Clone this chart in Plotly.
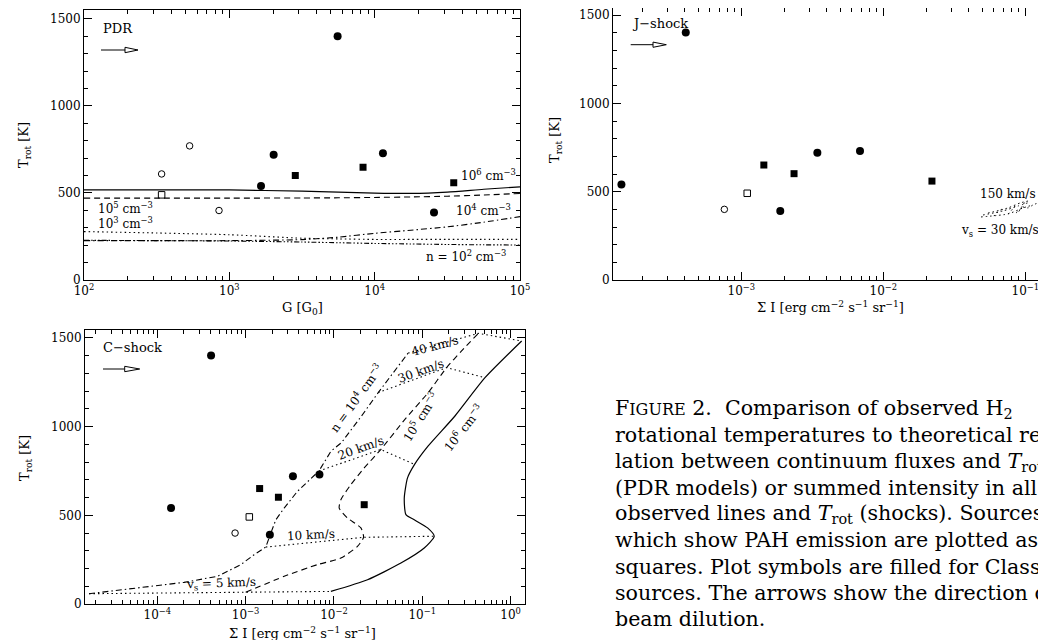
import plotly.graph_objects as go

W, H = 1046, 640
def px(x): return x / W
def py(y): return 1 - y / H

# ---------------- data ----------------
# PDR panel: observed sources (G in G0, Trot in K)
pdr_fc_G = [1652, 2018, 5559, 11400, 25600]
pdr_fc_T = [540, 719, 1399, 728, 387]
pdr_fs_G = [2844, 8318, 35000]
pdr_fs_T = [600, 648, 559]
pdr_oc_G = [342, 533, 849]
pdr_oc_T = [609, 770, 399]
pdr_os_G = [342]
pdr_os_T = [489]

# Shock panels: observed sources (summed intensity, Trot)
shock_fc_I = [1.43e-4, 4.06e-4, 1.88e-3, 3.43e-3, 6.85e-3]
shock_fc_T = [541, 1401, 391, 721, 730]
shock_fs_I = [1.44e-3, 2.35e-3, 2.20e-2]
shock_fs_T = [651, 602, 560]
shock_oc_I = [7.59e-4]
shock_oc_T = [400]
shock_os_I = [1.10e-3]
shock_os_T = [491]

# PDR model curves
pdr_model_G = [100, 316, 1000, 3162, 5623, 10000, 17783, 31623, 56234, 100000]
pdr_n6_T = [517, 517, 517, 510, 505, 499, 497, 505, 521, 535]
pdr_n5_T = [470, 470, 470, 471, 472, 474, 477, 481, 488, 497]
pdr_n4_T = [226, 226, 226, 232, 246, 268, 286, 305, 332, 364]
pdr_n3_T = [278, 270, 260, 240, 236, 233, 233, 233, 233, 233]
pdr_n2_T = [228, 226, 224, 218, 214, 210, 207, 204, 202, 201]

# C-shock model curves (constant density)
c_n4_I = [1.683e-5, 5.445e-5, 2.009e-4, 4.786e-4, 8.81e-4, 1.247e-3, 1.690e-3,
          1.928e-3, 2.198e-3, 2.729e-3, 3.855e-3, 6.761e-3, 9.226e-3, 1.216e-2,
          2.051e-2, 3.170e-2, 6.918e-2]
c_n4_T = [58, 90, 122, 156, 222, 278, 321, 400, 475, 541, 635, 750, 861, 910,
          1060, 1192, 1415]
c_n5_I = [1.0e-3, 2.729e-3, 6.50e-3, 1.197e-2, 1.845e-2, 2.163e-2, 2.018e-2,
          1.422e-2, 1.146e-2, 1.197e-2, 1.552e-2, 2.198e-2, 3.388e-2, 6.353e-2,
          0.1167, 0.1884, 0.2786, 0.4305]
c_n5_T = [66, 156, 222, 259, 325, 376, 429, 485, 541, 588, 673, 767, 871, 1041,
          1192, 1333, 1427, 1526]
c_n6_I = [9.226e-3, 2.399e-2, 5.728e-2, 0.1052, 0.1365, 0.1148, 0.0811, 0.06531,
          0.06252, 0.06808, 0.08185, 0.1167, 0.2344, 0.5129, 1.334]
c_n6_T = [71, 137, 231, 316, 382, 429, 475, 504, 598, 711, 787, 891, 1060, 1276,
          1483]
# C-shock model curves (constant velocity)
c_v5_I = [1.683e-5, 1.0e-3, 9.226e-3]
c_v5_T = [58, 66, 71]
c_v10_I = [1.690e-3, 2.163e-2, 0.1365]
c_v10_T = [321, 376, 382]
c_v20_I = [6.761e-3, 3.388e-2, 0.08185]
c_v20_T = [750, 871, 787]
c_v30_I = [3.170e-2, 0.1884, 0.5129]
c_v30_T = [1192, 1333, 1276]
c_v40_I = [6.918e-2, 0.4305, 1.334]
c_v40_T = [1415, 1526, 1483]

# J-shock model grid (small hatched region)
j_lines_I = [[0.04875, 0.07551, 0.09638, 0.1132],
             [0.05035, 0.06966, 0.08892, 0.1079],
             [0.05458, 0.07551, 0.09183, 0.1045],
             [0.0860, 0.0964, 0.1045, 0.1132, 0.1227]]
j_lines_T = [[357, 374, 408, 425],
             [368, 391, 419, 441],
             [379, 408, 436, 447],
             [379, 413, 408, 425, 436]]
j_cross_I = [[0.0600, 0.0640, 0.0680], [0.0760, 0.0800, 0.0850], [0.0900, 0.0950, 0.0990]]
j_cross_T = [[362, 385, 400], [374, 398, 420], [388, 415, 440]]

# tick labels
pdr_xtick_vals = [100, 1000, 10000, 100000]
pdr_xtick_text = ["10<sup>2</sup>", "10<sup>3</sup>", "10<sup>4</sup>", "10<sup>5</sup>"]
j_xtick_vals = [1e-3, 1e-2, 1e-1]
j_xtick_text = ["10<sup>−3</sup>", "10<sup>−2</sup>", "10<sup>−1</sup>"]
c_xtick_vals = [1e-4, 1e-3, 1e-2, 1e-1, 1]
c_xtick_text = ["10<sup>−4</sup>", "10<sup>−3</sup>", "10<sup>−2</sup>", "10<sup>−1</sup>", "10<sup>0</sup>"]
ytick_vals = [0, 500, 1000, 1500]

FONT = "DejaVu Serif"
fig = go.Figure()

def markers(xs, ys, ax, sym, size):
    filled = "open" not in sym
    fig.add_trace(go.Scatter(x=xs, y=ys, mode="markers", xaxis="x" + ax, yaxis="y" + ax,
                             marker=dict(symbol=sym, size=size, color="black",
                                         line=dict(color="black", width=1 if not filled else 0)),
                             showlegend=False, hoverinfo="skip"))

def line(xs, ys, ax, dash, shape="linear", width=1.0):
    fig.add_trace(go.Scatter(x=xs, y=ys, mode="lines", xaxis="x" + ax, yaxis="y" + ax,
                             line=dict(color="black", width=width, dash=dash, shape=shape,
                                       smoothing=0.6 if shape == "spline" else None),
                             showlegend=False, hoverinfo="skip"))

DASHDOT = "6px,3px,1.5px,3px"
DOT = "1.5px,3px"
DASHDOT3 = "5px,2px,1.5px,2px,1.5px,2px,1.5px,2px"

# PDR models
line(pdr_model_G, pdr_n6_T, "", "solid", "spline", 1.2)
line(pdr_model_G, pdr_n5_T, "", "6px,4px", "spline", 1.1)
line(pdr_model_G, pdr_n4_T, "", DASHDOT, "spline", 1.1)
line(pdr_model_G, pdr_n3_T, "", DOT, "spline", 1.1)
line(pdr_model_G, pdr_n2_T, "", DASHDOT3, "spline", 1.1)
markers(pdr_fc_G, pdr_fc_T, "", "circle", 8)
markers(pdr_fs_G, pdr_fs_T, "", "square", 7)
markers(pdr_oc_G, pdr_oc_T, "", "circle-open", 6.5)
markers(pdr_os_G, pdr_os_T, "", "square-open", 6.5)

# J-shock
for xs, ys in zip(j_lines_I, j_lines_T):
    line(xs, ys, "2", DOT, "spline")
for xs, ys in zip(j_cross_I, j_cross_T):
    line(xs, ys, "2", DOT)
markers(shock_fc_I, shock_fc_T, "2", "circle", 8)
markers(shock_fs_I, shock_fs_T, "2", "square", 7)
markers(shock_oc_I, shock_oc_T, "2", "circle-open", 6.5)
markers(shock_os_I, shock_os_T, "2", "square-open", 6.5)

# C-shock
line(c_n4_I, c_n4_T, "3", DASHDOT, "linear", 1.1)
line(c_n5_I, c_n5_T, "3", "6px,4px", "spline", 1.1)
line(c_n6_I, c_n6_T, "3", "solid", "spline", 1.2)
for xs, ys in [(c_v5_I, c_v5_T), (c_v10_I, c_v10_T), (c_v20_I, c_v20_T),
               (c_v30_I, c_v30_T), (c_v40_I, c_v40_T)]:
    line(xs, ys, "3", DOT, "linear", 1.1)
markers(shock_fc_I, shock_fc_T, "3", "circle", 8)
markers(shock_fs_I, shock_fs_T, "3", "square", 7)
markers(shock_oc_I, shock_oc_T, "3", "circle-open", 6.5)
markers(shock_os_I, shock_os_T, "3", "square-open", 6.5)

def logminor(lo, hi):
    return [m * 10.0 ** k for k in range(lo, hi) for m in range(2, 10)]

def xaxis(domain, rng, tv, tt, minor_vals, anchor):
    return dict(type="log", domain=domain, range=rng, anchor=anchor,
                tickmode="array", tickvals=tv, ticktext=tt,
                showline=True, linecolor="black", linewidth=1, mirror="allticks",
                ticks="inside", ticklen=8, tickwidth=1, tickcolor="black",
                minor=dict(ticks="inside", ticklen=4, tickwidth=1, tickcolor="black",
                           tickmode="array", tickvals=minor_vals, showgrid=False),
                showgrid=False, zeroline=False, automargin=False,
                tickfont=dict(family=FONT, size=12, color="black"))

def yaxis(domain, rng, anchor):
    return dict(domain=domain, range=rng, anchor=anchor,
                tickmode="array", tickvals=ytick_vals,
                showline=True, linecolor="black", linewidth=1, mirror="allticks",
                ticks="inside", ticklen=8, tickwidth=1, tickcolor="black",
                minor=dict(ticks="inside", ticklen=4, tickwidth=1, tickcolor="black",
                           dtick=100, showgrid=False),
                showgrid=False, zeroline=False, automargin=False,
                tickfont=dict(family=FONT, size=12, color="black"))

layout = dict(
    width=W, height=H, margin=dict(l=0, r=0, t=0, b=0),
    paper_bgcolor="white", plot_bgcolor="white", showlegend=False,
    xaxis=xaxis([px(76), px(512)], [2, 5], pdr_xtick_vals, pdr_xtick_text, logminor(2, 5), "y"),
    yaxis=yaxis([py(272), py(1.7)], [0, 1552], "x"),
    xaxis2=xaxis([px(605), px(1045)], [-3.904, -0.805], j_xtick_vals, j_xtick_text, logminor(-4, 0), "y2"),
    yaxis2=yaxis([py(272), 1.0], [0, 1540], "x2"),
    xaxis3=xaxis([px(77), px(517)], [-4.819, 0.163], c_xtick_vals, c_xtick_text, logminor(-5, 1), "y3"),
    yaxis3=yaxis([py(596), py(322)], [0, 1545], "x3"),
)
fig.update_layout(**layout)

ann = []
def text(x, y, s, size=12, xanchor="center", angle=0, family=FONT):
    ann.append(dict(x=px(x), y=py(y), xref="paper", yref="paper", text=s, showarrow=False,
                    xanchor=xanchor, yanchor="middle", textangle=angle,
                    font=dict(family=family, size=size, color="black")))

# panel labels
text(93, 20, "PDR", 13, "left")
text(622, 15, "J−shock", 13, "left")
text(93, 339, "C−shock", 13, "left")

# PDR curve labels
text(510, 167, "10<sup>6</sup> cm<sup>−3</sup>", 12, "right")
text(88, 200, "10<sup>5</sup> cm<sup>−3</sup>", 12, "left")
text(88, 215, "10<sup>3</sup> cm<sup>−3</sup>", 12, "left")
text(505, 202, "10<sup>4</sup> cm<sup>−3</sup>", 12, "right")
text(500, 248, "n = 10<sup>2</sup> cm<sup>−3</sup>", 12, "right")

# J-shock labels
text(1030, 186, "150 km/s", 12, "right")
text(1033, 223, "v<sub>s</sub> = 30 km/s", 12, "right")

# C-shock labels
text(348, 390, "n = 10<sup>4</sup> cm<sup>−3</sup>", 12, angle=-54)
text(412, 409, "10<sup>5</sup> cm<sup>−3</sup>", 12, angle=-58)
text(455, 420, "10<sup>6</sup> cm<sup>−3</sup>", 12, angle=-52)
text(427, 338, "40 km/s", 12, angle=-15)
text(413, 363, "30 km/s", 12, angle=-20)
text(353, 440, "20 km/s", 12, angle=-20)
text(303, 527, "10 km/s", 12, angle=-3)
text(213, 576, "v<sub>s</sub> = 5 km/s", 12, angle=-2)

# axis titles
text(16, 137, "T<sub>rot</sub> [K]", 13, angle=-90)
text(294, 300, "G [G<sub>0</sub>]", 13)
text(547, 132, "T<sub>rot</sub> [K]", 13, angle=-90)
text(822, 299, "Σ I [erg cm<sup>−2</sup> s<sup>−1</sup> sr<sup>−1</sup>]", 13)
text(17, 450, "T<sub>rot</sub> [K]", 13, angle=-90)
text(294, 625, "Σ I [erg cm<sup>−2</sup> s<sup>−1</sup> sr<sup>−1</sup>]", 13)

# caption
caption = [
    "F<span style='font-size:16px'>IGURE</span> 2.  Comparison of observed H<sub>2</sub>",
    "rotational temperatures to theoretical re-",
    "lation between continuum fluxes and <i>T</i><sub>rot</sub>",
    "(PDR models) or summed intensity in all",
    "observed lines and <i>T</i><sub>rot</sub> (shocks). Sources",
    "which show PAH emission are plotted as",
    "squares. Plot symbols are filled for Class 0",
    "sources. The arrows show the direction of",
    "beam dilution.",
]
for i, s in enumerate(caption):
    text(605, 401 + i * 26.25, s, 20.6, "left")

fig.update_layout(annotations=ann)

# beam-dilution arrows
shapes = []
for (x0, x1, x2, y, hh) in [(93, 117, 130, 42, 2.7), (622.7, 645, 658.3, 36.7, 2.6), (95, 116.7, 131.7, 361, 2.7)]:
    shapes.append(dict(type="line", xref="paper", yref="paper", x0=px(x0), x1=px(x1),
                       y0=py(y), y1=py(y), line=dict(color="black", width=1)))
    shapes.append(dict(type="path", xref="paper", yref="paper",
                       path=f"M {px(x1)},{py(y - hh)} L {px(x2)},{py(y)} L {px(x1)},{py(y + hh)} Z",
                       fillcolor="white", line=dict(color="black", width=1)))
fig.update_layout(shapes=shapes)

fig.write_html("out.html")
